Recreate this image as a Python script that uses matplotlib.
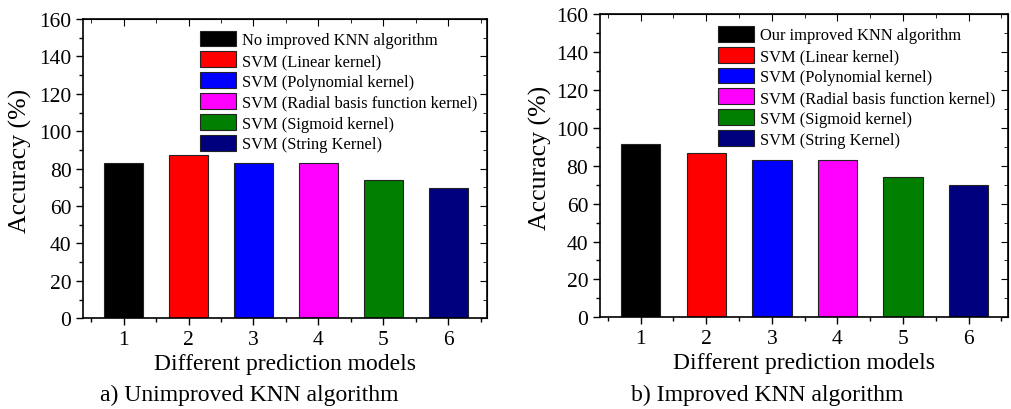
import matplotlib
matplotlib.use('Agg')
import matplotlib.pyplot as plt
from matplotlib.ticker import MultipleLocator

plt.rcParams['font.family'] = ['Liberation Serif', 'DejaVu Serif']

models = [1, 2, 3, 4, 5, 6]
colors = ['#000000', '#ff0000', '#0000ff', '#ff00ff', '#007f00', '#00007f']
labels_a = ['No improved KNN algorithm', 'SVM (Linear kernel)', 'SVM (Polynomial kernel)',
            'SVM (Radial basis function kernel)', 'SVM (Sigmoid kernel)', 'SVM (String Kernel)']
labels_b = ['Our improved KNN algorithm'] + labels_a[1:]
acc_a = [83, 87.2, 83, 83, 74, 69.7]
acc_b = [91.5, 87, 82.8, 82.8, 74, 69.7]

fig = plt.figure(figsize=(10.11, 4.10), dpi=100)
ax1 = fig.add_axes([83.3 / 1011, 1 - 319.3 / 410, 404 / 1011, 299.3 / 410])
ax2 = fig.add_axes([600 / 1011, 1 - 318.3 / 410, 408 / 1011, 303 / 410])


def draw(ax, acc, labels, caption, capx, legx, ylx):
    bars = ax.bar(models, acc, width=0.6, color=colors, edgecolor='#222222', linewidth=0.8)
    ax.set_xlim(0.38, 6.6)
    ax.set_ylim(0, 160)
    ax.set_xticks(models)
    ax.xaxis.set_minor_locator(MultipleLocator(0.5))
    ax.yaxis.set_major_locator(MultipleLocator(20))
    ax.yaxis.set_minor_locator(MultipleLocator(10))
    ax.tick_params(which='both', direction='out', top=False, right=False, labelsize=15.5, width=1)
    ax.tick_params(which='major', length=5)
    ax.tick_params(which='minor', length=3)
    # mirrored ticks on top/right pointing inward
    sec_x = ax.secondary_xaxis('top')
    sec_x.set_xticks(models)
    sec_x.xaxis.set_minor_locator(MultipleLocator(0.5))
    sec_x.tick_params(which='both', direction='in', labeltop=False)
    sec_x.tick_params(which='major', length=5)
    sec_x.tick_params(which='minor', length=3)
    sec_y = ax.secondary_yaxis('right')
    sec_y.yaxis.set_major_locator(MultipleLocator(20))
    sec_y.yaxis.set_minor_locator(MultipleLocator(10))
    sec_y.tick_params(which='both', direction='in', labelright=False)
    sec_y.tick_params(which='major', length=5)
    sec_y.tick_params(which='minor', length=3)
    for s in ax.spines.values():
        s.set_linewidth(1.2)
    ax.set_xlabel('Different prediction models', fontsize=17, labelpad=3)
    ax.set_ylabel('Accuracy (%)', fontsize=18.5)
    ax.yaxis.set_label_coords(ylx, 0.53)
    fig.text(capx, 1 - 401 / 410, caption, ha='center', va='baseline', fontsize=17)
    ax.legend(bars, labels, loc='upper left', bbox_to_anchor=(legx, 1.0), frameon=False,
              fontsize=11.9, handlelength=2.2, handleheight=1.1, labelspacing=0.2,
              handletextpad=0.35, borderaxespad=0.5, borderpad=0.2)


draw(ax1, acc_a, labels_a, 'a) Unimproved KNN algorithm', 249 / 1011, 0.26, -0.127)
draw(ax2, acc_b, labels_b, 'b) Improved KNN algorithm', 767 / 1011, 0.26, -0.118)

fig.savefig('out.png', dpi=100)
